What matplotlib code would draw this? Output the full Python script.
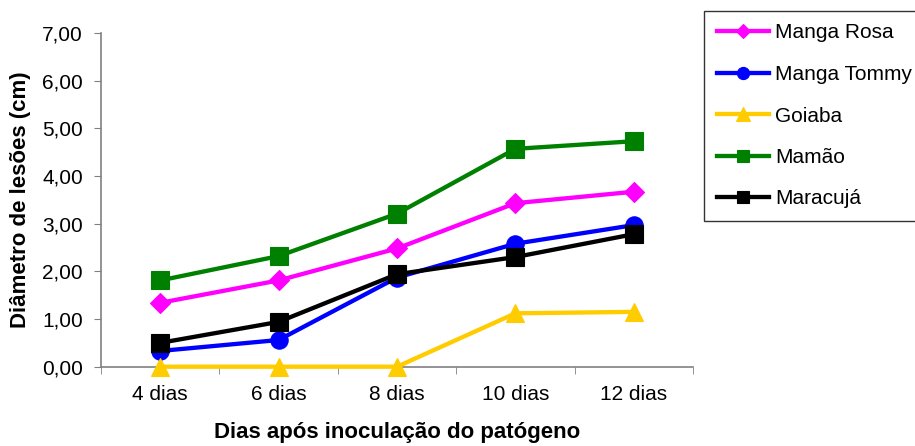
import matplotlib
matplotlib.use("Agg")
import matplotlib.pyplot as plt
from matplotlib.ticker import FixedLocator, FuncFormatter

plt.rcParams['font.family'] = ['Liberation Sans', 'DejaVu Sans']

dias = ["4 dias", "6 dias", "8 dias", "10 dias", "12 dias"]
manga_rosa = [1.34, 1.81, 2.48, 3.43, 3.67]
manga_tommy = [0.33, 0.56, 1.87, 2.58, 2.97]
goiaba = [0.00, 0.00, 0.00, 1.12, 1.15]
mamao = [1.81, 2.32, 3.21, 4.57, 4.73]
maracuja = [0.50, 0.94, 1.94, 2.30, 2.78]
y_ticks = [0, 1, 2, 3, 4, 5, 6, 7]

series = [
    ("Manga Rosa", manga_rosa, "#FF00FF", "D", 9.8),
    ("Manga Tommy", manga_tommy, "#0000FF", "o", 12.5),
    ("Goiaba", goiaba, "#FFCC00", "^", 13.5),
    ("Mamão", mamao, "#008000", "s", 13),
    ("Maracujá", maracuja, "#000000", "s", 13),
]

fig = plt.figure(figsize=(9.15, 4.46), dpi=100)
ax = fig.add_axes([101 / 915, 1 - 366.7 / 446, 592 / 915, 333.7 / 446])

x = list(range(len(dias)))
handles = []
for name, vals, color, marker, ms in series:
    h, = ax.plot(x, vals, color=color, lw=3.1, marker=marker, markersize=ms,
                 markeredgewidth=0.8, label=name, clip_on=False, zorder=3)
    handles.append(h)

ax.set_xlim(-0.5, len(dias) - 0.5)
ax.set_ylim(0, 7)
ax.yaxis.set_major_locator(FixedLocator(y_ticks))
ax.yaxis.set_major_formatter(FuncFormatter(lambda v, p: f"{v:.2f}".replace(".", ",")))
ax.set_xticks(x)
ax.set_xticklabels(dias)
ax.xaxis.set_minor_locator(FixedLocator([i - 0.5 for i in range(len(dias) + 1)]))
ax.tick_params(axis='x', which='major', length=0, pad=13, labelsize=15)
ax.tick_params(axis='x', which='minor', length=5, color='#808080', direction='out')
ax.tick_params(axis='y', length=5, color='#808080', direction='out', labelsize=15, pad=8)

for side in ("top", "right"):
    ax.spines[side].set_visible(False)
for side in ("left", "bottom"):
    ax.spines[side].set_color('#808080')
    ax.spines[side].set_linewidth(1.2)

ax.set_xlabel("Dias após inoculação do patógeno", fontsize=16, fontweight='bold', labelpad=13)
ax.set_ylabel("Diâmetro de lesões (cm)", fontsize=16, fontweight='bold', labelpad=8)

leg = fig.legend(handles=handles, loc='upper left', bbox_to_anchor=(704 / 915, 1 - 11 / 446),
                 fontsize=15, frameon=True, fancybox=False, handlelength=2.5, markerscale=0.7,
                 labelspacing=1.08, borderpad=0.6, handletextpad=0.3, borderaxespad=0)
leg.get_frame().set_edgecolor('#000000')
leg.get_frame().set_linewidth(1)

fig.savefig("out.png", dpi=100)
